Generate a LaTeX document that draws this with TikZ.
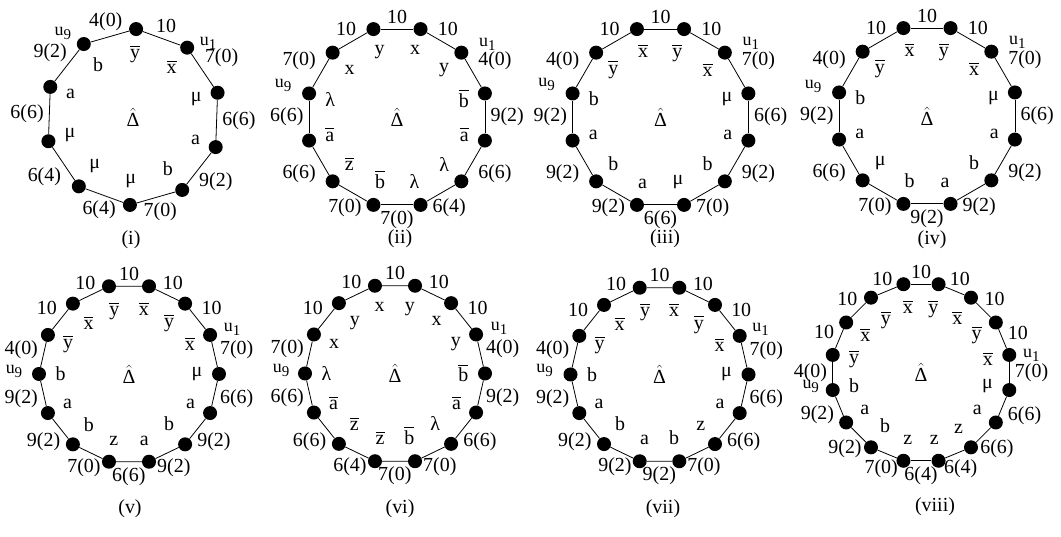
\documentclass[tikz,border=0pt]{standalone}
\usepackage{fontspec}
\setmainfont{Liberation Serif}
\newcommand\ob[1]{\setbox0\hbox{#1}\rlap{\raisebox{\dimexpr\ht0+2.6bp\relax}{\rule{\wd0}{0.9bp}}}\box0}
\newcommand\dhatsym{$\hat{\mbox{Δ}}$}
\newcommand\uu[1]{{\fontsize{18}{18}\selectfont u\raisebox{-4bp}{\fontsize{15}{15}\selectfont #1}}}
\tikzset{
  dot/.style={circle, fill=black, inner sep=0pt, minimum size=14bp},
  elab/.style={inner sep=1.5bp},
  vlab/.style={inner sep=1.5bp},
  ulab/.style={inner sep=0pt},
  edge/.style={line width=0.8bp},
  capt/.style={inner sep=0pt}
}
\newcommand\mypoly[7]{%
  \pgfmathsetmacro\Rmid{#5*cos(180/#4)+4}%
  \pgfmathsetmacro\Rin{#5-15}%
  \begin{scope}[shift={(#2,#3)}]
    \foreach \e/\v [count=\k from 0] in {#7} {
      \pgfmathsetmacro\ang{mod(#6-\k*360/#4+720,360)}
      \pgfmathsetmacro\mang{mod(#6-(\k+0.5)*360/#4+720,360)}
      \pgfmathsetmacro\oang{mod(\mang+180,360)}
      \node[dot] (#1-\k) at (\ang:#5) {};
      \node[vlab, anchor=\ang] (#1-v\k) at (\ang:\Rin) {\v};
      \node[elab, anchor=\oang] (#1-e\k) at (\mang:\Rmid) {\e};
    }
    \node (#1-c) at (0,0) {\dhatsym};
  \end{scope}
  \foreach \k in {1,...,#4} {
    \pgfmathtruncatemacro\pk{\k-1}
    \pgfmathtruncatemacro\nk{mod(\k,#4)}
    \draw[edge] (#1-\pk) -- (#1-\nk);
  }
}
\begin{document}
\begin{tikzpicture}[x=1bp, y=1bp, font=\fontsize{20}{24}\selectfont]
\useasboundingbox (0,0) rectangle (1061,537);
% (i)
\mypoly{A}{133}{420}{10}{88}{88}{10/\ob{y}, 7(0)/\ob{x}, 6(6)/μ, 9(2)/a, 7(0)/b, 6(4)/μ, 6(4)/μ, 6(6)/μ, 9(2)/a, 4(0)/b}
\node[ulab] (A-u1) at ([shift={(21,4)}]A-1) {\uu1};
\node[ulab] (A-u9) at ([shift={(-21,11)}]A-9) {\uu9};
\node[capt] (A-cap) at (131,297) {(i)};
% (ii)
\mypoly{B}{397}{420}{12}{91}{105}{10/y, 10/x, 4(0)/y, 9(2)/\ob{b}, 6(6)/\ob{a}, 6(4)/λ, 7(0)/λ, 7(0)/\ob{b}, 6(6)/\ob{z}, 6(6)/\ob{a}, 7(0)/λ, 10/x}
\node[ulab] (B-u1) at ([shift={(26,8)}]B-2) {\uu1};
\node[ulab] (B-u9) at ([shift={(-26,8)}]B-10) {\uu9};
\node[capt] (B-cap) at (400,298) {(ii)};
% (iii)
\mypoly{C}{660.5}{420}{12}{91}{105}{10/\ob{x}, 10/\ob{y}, 7(0)/\ob{x}, 6(6)/μ, 9(2)/a, 7(0)/b, 6(6)/μ, 9(2)/a, 9(2)/b, 9(2)/a, 4(0)/b, 10/\ob{y}}
\node[ulab] (C-u1) at ([shift={(26,9)}]C-2) {\uu1};
\node[ulab] (C-u9) at ([shift={(-26,9)}]C-10) {\uu9};
\node[capt] (C-cap) at (665,298) {(iii)};
% (iv)
\mypoly{D}{927}{421}{12}{91}{105}{10/\ob{x}, 10/\ob{y}, 7(0)/\ob{x}, 6(6)/μ, 9(2)/a, 9(2)/b, 9(2)/a, 7(0)/b, 6(6)/μ, 9(2)/a, 4(0)/b, 10/\ob{y}}
\node[ulab] (D-u1) at ([shift={(26,9)}]D-2) {\uu1};
\node[ulab] (D-u9) at ([shift={(-26,6)}]D-10) {\uu9};
\node[capt] (D-cap) at (932,297) {(iv)};
% (v)
\mypoly{E}{129}{163}{14}{90}{102.857}{10/\ob{y}, 10/\ob{x}, 10/\ob{y}, 7(0)/\ob{x}, 6(6)/μ, 9(2)/a, 9(2)/b, 6(6)/a, 7(0)/z, 9(2)/b, 9(2)/a, 4(0)/b, 10/\ob{y}, 10/\ob{x}}
\node[ulab] (E-u1) at ([shift={(22,6)}]E-3) {\uu1};
\node[ulab] (E-u9) at ([shift={(-25,3)}]E-11) {\uu9};
\node[capt] (E-cap) at (130,28) {(v)};
% (vi)
\mypoly{F}{395}{163.5}{14}{90}{102.857}{10/x, 10/y, 10/x, 4(0)/y, 9(2)/\ob{b}, 6(6)/\ob{a}, 7(0)/λ, 7(0)/\ob{b}, 6(4)/\ob{z}, 6(6)/\ob{z}, 6(6)/\ob{a}, 7(0)/λ, 10/x, 10/y}
\node[ulab] (F-u1) at ([shift={(23,6)}]F-3) {\uu1};
\node[ulab] (F-u9) at ([shift={(-24,3)}]F-11) {\uu9};
\node[capt] (F-cap) at (400,28) {(vi)};
% (vii)
\mypoly{G}{659.5}{162.5}{14}{89}{102.857}{10/\ob{y}, 10/\ob{x}, 10/\ob{y}, 7(0)/\ob{x}, 6(6)/μ, 6(6)/a, 7(0)/z, 9(2)/b, 9(2)/a, 9(2)/b, 9(2)/a, 4(0)/b, 10/\ob{y}, 10/\ob{x}}
\node[ulab] (G-u1) at ([shift={(21,6)}]G-3) {\uu1};
\node[ulab] (G-u9) at ([shift={(-26,4)}]G-11) {\uu9};
\node[capt] (G-cap) at (663,28) {(vii)};
% (viii)
\mypoly{H}{921}{164.5}{16}{90}{101.25}{10/\ob{x}, 10/\ob{y}, 10/\ob{x}, 10/\ob{y}, 7(0)/\ob{x}, 6(6)/μ, 6(6)/a, 6(4)/z, 6(4)/z, 7(0)/z, 9(2)/b, 9(2)/a, 4(0)/b, 10/\ob{y}, 10/\ob{x}, 10/\ob{y}}
\node[ulab] (H-u1) at ([shift={(22,0)}]H-4) {\uu1};
\node[ulab] (H-u9) at ([shift={(-22,4)}]H-12) {\uu9};
\node[capt] (H-cap) at (935,30) {(viii)};
\end{tikzpicture}
\end{document}
